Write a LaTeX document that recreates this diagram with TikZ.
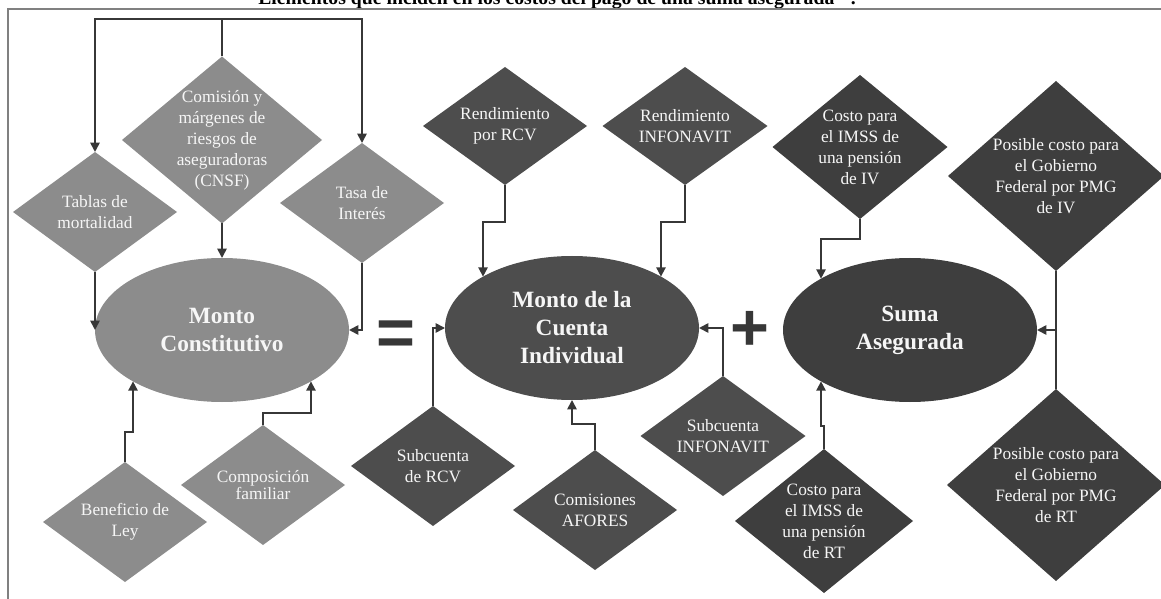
\documentclass[tikz,border=0pt]{standalone}
\usepackage{fontspec}
\setmainfont{Liberation Serif}
\newfontfamily\opfont{Liberation Sans}
\usetikzlibrary{shapes.geometric,arrows.meta}
\definecolor{fillA}{RGB}{140,140,140}
\definecolor{fillB}{RGB}{77,77,77}
\definecolor{fillC}{RGB}{62,62,62}
\definecolor{wire}{RGB}{55,55,55}
\definecolor{framegray}{RGB}{128,128,128}
\definecolor{ink}{RGB}{246,246,246}
\begin{document}
\begin{tikzpicture}[x=0.75pt,y=-0.75pt,
  dsize/.style 2 args={minimum width=#1*0.75pt, minimum height=#2*0.75pt},
  dia/.style={diamond, inner sep=0pt, outer sep=0pt, draw=none},
  diaA/.style={dia, fill=fillA},
  diaB/.style={dia, fill=fillB},
  diaC/.style={dia, fill=fillC},
  txt/.style={text=ink, align=center, inner sep=0pt, font=\fontsize{13}{15.75}\selectfont},
  oval/.style={ellipse, inner sep=0pt, outer sep=0pt, draw=none,
    minimum width=190.5pt, minimum height=108pt, text=ink, align=center,
    font=\fontsize{17.5}{21}\selectfont\bfseries},
  plain/.style={draw=wire, line width=1.3pt},
  link/.style={plain, -{Triangle[length=7pt,width=7pt]}},
  opsign/.style={text=wire, inner sep=0pt, font=\opfont\bfseries\fontsize{50}{50}\selectfont}
]
\useasboundingbox (0,0) rectangle (1161,599);

% heading, set against the top edge
\node[anchor=base, font=\fontsize{14.8}{18}\selectfont\bfseries] (title) at (557,5)
  {Elementos que inciden en los costos del pago de una suma asegurada \textsuperscript{1/}.};

% outer frame
\draw[framegray, line width=1.5pt] (8,599) -- (8,9.5) -- (1161,9.5);

% ---------------- Monto Constitutivo ----------------
\node[oval, fill=fillA] (mc) at (222,330) {Monto\\Constitutivo};

\node[diaA, dsize={200}{167}] (com) at (222,140) {};
\node[txt] (comT) at (com) {Comisión y\\márgenes de\\riesgos de\\aseguradoras\\(CNSF)};
\node[diaA, dsize={164}{120}] (tab) at (95,212) {};
\node[txt] (tabT) at (tab) {Tablas de\\mortalidad};
\node[diaA, dsize={164}{120}] (tasa) at (362,203) {};
\node[txt] (tasaT) at (tasa) {Tasa de\\Interés};
\node[diaA, dsize={164}{120}] (ben) at (125,522) {};
\node[txt] (benT) at (ben) {Beneficio de\\Ley};
\node[diaA, dsize={164}{120}] (cmp) at (263,485) {};
\node[txt, font=\fontsize{13}{12.5}\selectfont] (cmpT) at (cmp) {Composición\\familiar};

\coordinate (ctop) at (222,19);
\draw[plain] (com.north) -- (ctop);
\draw[link] (ctop) -| (tab.north);
\draw[link] (ctop) -| (tasa.north);
\draw[link] (com.south) -- (mc.north);
\draw[link] (tab.south) -- (mc.west);
\draw[link] (tasa.south) |- (mc.east);
\draw[link] (ben.north) -- ++(0,-30) -| (mc.210);
\draw[link] (cmp.north) -- ++(0,-12) -| (mc.330);

\node[opsign] (eq) at (396,338) {=};

% ---------------- Monto de la Cuenta Individual ----------------
\node[oval, fill=fillB] (cu) at (572,328) {Monto de la\\Cuenta\\Individual};

\node[diaB, dsize={164}{118}] (rcv) at (505,126) {};
\node[txt] (rcvT) at (rcv) {Rendimiento\\por RCV};
\node[diaB, dsize={165}{118}] (rinf) at (685,126) {};
\node[txt] (rinfT) at (rinf) {Rendimiento\\INFONAVIT};
\node[diaB, dsize={164}{120}] (scr) at (433,466) {};
\node[txt] (scrT) at (scr) {Subcuenta\\de RCV};
\node[diaB, dsize={164}{120}] (afo) at (595,510) {};
\node[txt] (afoT) at (afo) {Comisiones\\AFORES};
\node[diaB, dsize={165}{120}] (sci) at (723,436) {};
\node[txt] (sciT) at (sci) {Subcuenta\\INFONAVIT};

\draw[link] (rcv.south) -- ++(0,37) -| (cu.150);
\draw[link] (rinf.south) -- ++(0,37) -| (cu.30);
\draw[link] (scr.north) |- (cu.west);
\draw[link] (sci.north) |- (cu.east);
\draw[link] (afo.north) -- ++(0,-26) -| (cu.south);

\node[opsign] (plus) at (750,331) {+};

% ---------------- Suma Asegurada ----------------
\node[oval, fill=fillC] (sa) at (910,330) {Suma\\Asegurada};

\node[diaC, dsize={175}{144}] (civ) at (860,147) {};
\node[txt] (civT) at (civ) {Costo para\\el IMSS de\\una pensión\\de IV};
\node[diaC, dsize={178}{144}] (crt) at (824,521) {};
\node[txt] (crtT) at (crt) {Costo para\\el IMSS de\\una pensión\\de RT};
\node[diaC, dsize={216}{190}] (piv) at (1056,176) {};
\node[txt] (pivT) at (piv) {Posible costo para\\el Gobierno\\Federal por PMG\\de IV};
\node[diaC, dsize={218}{192}] (prt) at (1056,485) {};
\node[txt] (prtT) at (prt) {Posible costo para\\el Gobierno\\Federal por PMG\\de RT};

\draw[link] (civ.south) -- ++(0,20) -| (sa.150);
\draw[link] (crt.north) -- ++(0,-23) -| (sa.210);
\draw[plain] (piv.south) -- (prt.north);
\draw[link] (piv.south |- sa.east) -- (sa.east);

\end{tikzpicture}
\end{document}
